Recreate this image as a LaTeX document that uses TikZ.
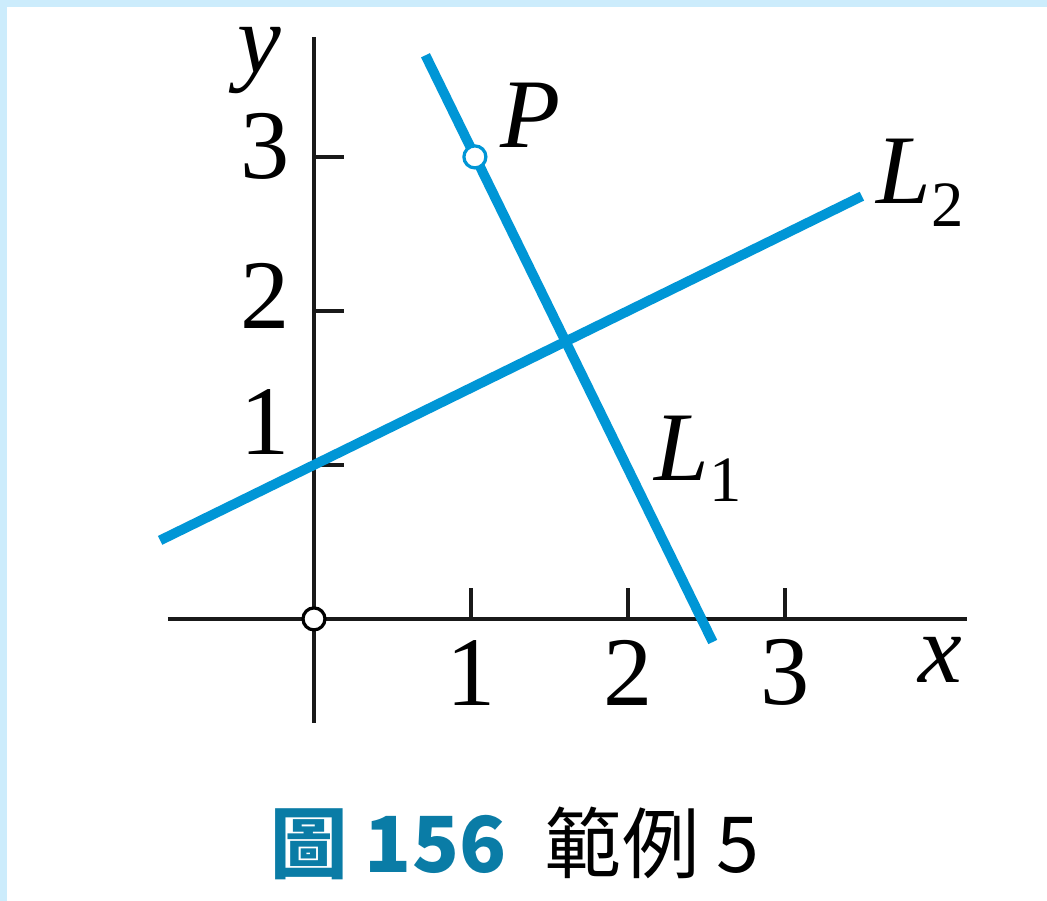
\documentclass[tikz,border=0pt]{standalone}
\usepackage{fontspec}
\usepackage{xcolor}
\usepackage{tikz}
\setmainfont{Liberation Serif}
\newfontfamily\cjk{Noto Sans CJK TC}
\definecolor{lineblue}{RGB}{0,150,214}
\definecolor{capblue}{RGB}{10,124,166}
\definecolor{frameblue}{RGB}{204,236,252}

\begin{document}
\begin{tikzpicture}[x=3.925cm, y=3.85cm, font=\fontsize{70}{84}\selectfont,
    axis/.style={line width=2.5pt, black!90},
    graph/.style={line width=7pt, lineblue},
    dot/.style={circle, line width=2.3pt, fill=white, inner sep=0pt, minimum size=0.55cm}]
    \fill[frameblue] (-2,-1.831) rectangle (4.669,4.019);
    \fill[white] (-1.955,-1.831) rectangle (4.669,3.974);
    \useasboundingbox (-2,-1.831) rectangle (4.669,4.019);
    \draw[axis] (-0.93,0) -- (4.16,0);
    \draw[axis] (0,-0.675) -- (0,3.78);
    \node[anchor=base, inner sep=0pt] (xlab) at (3.99,-0.416) {\textit{x}};
    \node[anchor=base, inner sep=0pt] (ylab) at (-0.35,3.55) {\textit{y}};
    \foreach \x in {1,2,3} {\draw[axis] (\x,0) -- (\x,0.2); \node[inner sep=0pt] (xt\x) at (\x,-0.35) {\x};}
    \foreach \y/\ly in {1/1.28, 2/2.1, 3/3.07} {\draw[axis] (0,\y) -- (0.19,\y); \node[inner sep=0pt] (yt\y) at (-0.31,\ly) {\y};}
    \coordinate (L1a) at (0.71,3.66);
    \coordinate (L1b) at (2.54,-0.15);
    \coordinate (L2a) at (-0.98,0.51);
    \coordinate (L2b) at (3.49,2.745);
    \draw[graph] (L1a) -- (L1b);
    \draw[graph] (L2a) -- (L2b);
    \node[dot, draw=black] (O) at (0,0) {};
    \node[dot, draw=lineblue] (P) at (1.025,3) {};
    \node[anchor=base, inner sep=0pt] (Plab) at (1.38,3.06) {\textit{P}};
    \node[anchor=base west, inner sep=0pt] (L2lab) at (3.58,2.70) {\textit{L}\raisebox{-0.24em}{\fontsize{46}{46}\selectfont 2}};
    \node[anchor=base west, inner sep=0pt] (L1lab) at (2.17,0.90) {\textit{L}\raisebox{-0.22em}{\fontsize{46}{46}\selectfont 1}};
    \node[anchor=base] (cap) at (1.28,-1.65) {\cjk\fontsize{55}{66}\selectfont{\bfseries\color{capblue}圖 156}\enspace 範例 5};
\end{tikzpicture}
\end{document}
